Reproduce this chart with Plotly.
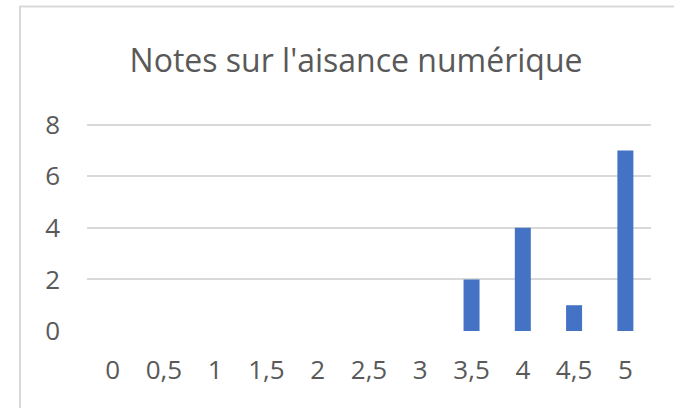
import plotly.graph_objects as go

categories = ["0", "0,5", "1", "1,5", "2", "2,5", "3", "3,5", "4", "4,5", "5"]
values = [0, 0, 0, 0, 0, 0, 0, 2, 4, 1, 7]
y_ticks = [0, 2, 4, 6, 8]
title_text = "Notes sur l'aisance numérique"

W, H = 674, 408
Y_TOP = 8.3
unit = (331 - 125) / 8.0
L, R, B = 87, 651, 331
T = B - Y_TOP * unit
pw, ph = R - L, B - T

def px(x):
    return (x - L) / pw

def py(y):
    return (B - y) / ph

fig = go.Figure(go.Bar(x=categories, y=values, marker_color="#4472c4", marker_line_width=0))

fig.update_layout(
    width=W, height=H,
    margin=dict(l=L, r=W - R, t=T, b=H - B, pad=0),
    paper_bgcolor="white", plot_bgcolor="white",
    bargap=0.688,
    showlegend=False,
    font=dict(family="Open Sans, Noto Sans, sans-serif", color="#595959", size=26),
    title=dict(text=title_text, x=356 / W, xanchor="center", y=1 - 61 / H, yanchor="middle",
               font=dict(size=32, color="#595959")),
    xaxis=dict(type="category", showgrid=False, showline=False, ticks="", zeroline=False,
               tickfont=dict(size=26), ticklabelstandoff=21),
    yaxis=dict(range=[0, Y_TOP], tickvals=y_ticks, showgrid=True, gridcolor="#d9d9d9", gridwidth=2,
               zeroline=False, showline=False, ticks="", tickfont=dict(size=26), ticklabelstandoff=26),
    shapes=[dict(type="rect", xref="paper", yref="paper",
                 x0=px(20), x1=px(700), y0=py(440), y1=py(7),
                 line=dict(color="#d9d9d9", width=2), fillcolor="rgba(0,0,0,0)", layer="below")],
)

fig.write_html("out.html", config={"displayModeBar": False},
               post_script="document.body.style.margin='0';document.body.style.overflow='hidden';")
